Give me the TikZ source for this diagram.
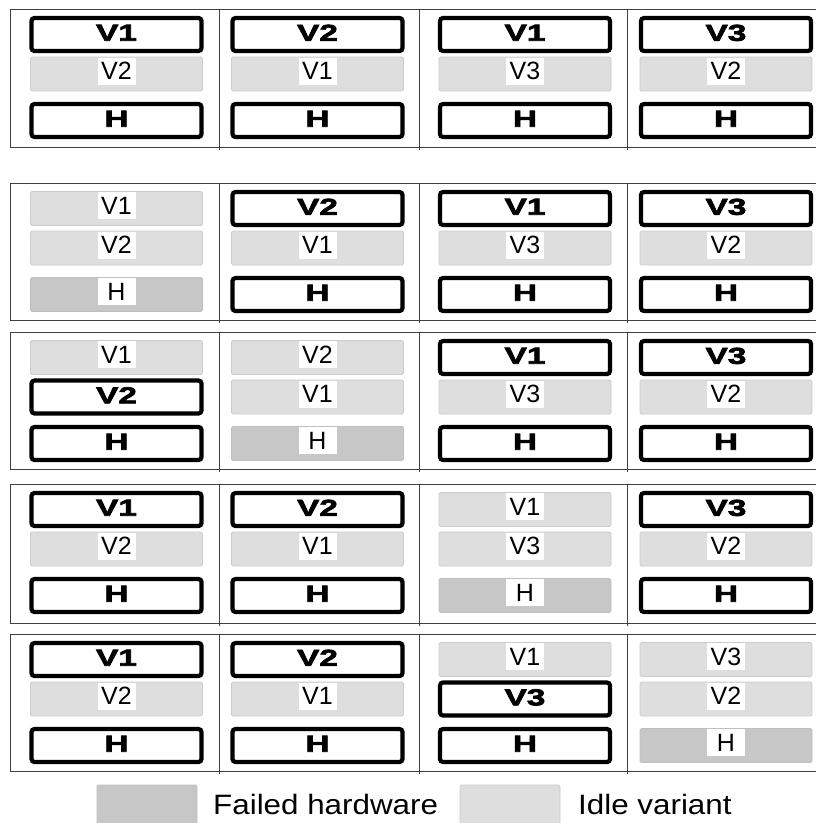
\documentclass[tikz,border=0pt]{standalone}
\usepackage{fontspec}
\setmainfont{Liberation Sans}
\newfontfamily\heavyfont[FakeBold=3,FakeStretch=1.45]{Liberation Sans}
\newfontfamily\legendfont[FakeStretch=1.12]{Liberation Sans}
\begin{document}
\begin{tikzpicture}[x=1pt,y=1pt,
  gridline/.style={draw=black!75, line width=1pt},
  activebox/.style={draw=black, line width=4.2pt, rounded corners=3pt, fill=white,
    minimum width=170pt, minimum height=33pt, inner sep=0pt,
    font=\heavyfont\bfseries\fontsize{23}{23}\selectfont},
  idlebox/.style={draw=black!20, fill=black!13, line width=0.8pt, rounded corners=1.5pt,
    minimum width=172pt, minimum height=34pt, inner sep=0pt},
  failbox/.style={idlebox, fill=black!22, draw=black!25},
  tag/.style={fill=white, inner sep=0pt, minimum width=38pt, minimum height=27pt,
    font=\fontsize{25}{25}\selectfont},
  legtext/.style={font=\legendfont\fontsize{28}{28}\selectfont, anchor=base west, inner sep=0pt}]
\useasboundingbox (0,0) rectangle (816,-823);
\def\rowtop{{9,183,332,484,634}}
\def\colx{{116.5,317.5,525,726}}
\def\sloty{{25.5,65,111.5}}
% grid
\foreach \t/\b in {9/147,183/320,332/469,484/623,634/771}{
  \draw[gridline] (816,-\t) -- (10,-\t) -- (10,-\b) -- (816,-\b);
  \foreach \x in {219,419,627} \draw[gridline] (\x,-\t) -- (\x,-\b-3);
}
% active variants / hardware
\foreach \r/\c/\s/\l in {1/1/1/V1,1/1/3/H,1/2/1/V2,1/2/3/H,1/3/1/V1,1/3/3/H,1/4/1/V3,1/4/3/H,
  2/2/1/V2,2/2/3/H,2/3/1/V1,2/3/3/H,2/4/1/V3,2/4/3/H,
  3/1/2/V2,3/1/3/H,3/3/1/V1,3/3/3/H,3/4/1/V3,3/4/3/H,
  4/1/1/V1,4/1/3/H,4/2/1/V2,4/2/3/H,4/4/1/V3,4/4/3/H,
  5/1/1/V1,5/1/3/H,5/2/1/V2,5/2/3/H,5/3/2/V3,5/3/3/H}{
  \pgfmathsetmacro\px{\colx[\c-1]}
  \pgfmathsetmacro\ta{\rowtop[\r-1]}
  \pgfmathsetmacro\tb{\sloty[\s-1]}
  \pgfmathsetmacro\py{0-\ta-\tb}
  \node[activebox] (a-\r-\c-\s) at (\px,\py) {\raisebox{3.5pt}{\l}};
}
% idle variants
\foreach \r/\c/\s/\l in {1/1/2/V2,1/2/2/V1,1/3/2/V3,1/4/2/V2,
  2/1/1/V1,2/1/2/V2,2/2/2/V1,2/3/2/V3,2/4/2/V2,
  3/1/1/V1,3/2/1/V2,3/2/2/V1,3/3/2/V3,3/4/2/V2,
  4/1/2/V2,4/2/2/V1,4/3/1/V1,4/3/2/V3,4/4/2/V2,
  5/1/2/V2,5/2/2/V1,5/3/1/V1,5/4/1/V3,5/4/2/V2}{
  \pgfmathsetmacro\px{\colx[\c-1]}
  \pgfmathsetmacro\ta{\rowtop[\r-1]}
  \pgfmathsetmacro\tb{\sloty[\s-1]}
  \pgfmathsetmacro\py{0-\ta-\tb}
  \node[idlebox] (i-\r-\c-\s) at (\px,\py) {};
  \node[tag,yshift=3pt] (it-\r-\c-\s) at (i-\r-\c-\s.center) {\l};
}
% failed hardware
\foreach \r/\c in {2/1,3/2,4/3,5/4}{
  \pgfmathsetmacro\px{\colx[\c-1]}
  \pgfmathsetmacro\ta{\rowtop[\r-1]}
  \pgfmathsetmacro\py{0-\ta-111.5}
  \node[failbox] (f-\r-\c) at (\px,\py) {};
  \node[tag,yshift=3pt] (ft-\r-\c) at (f-\r-\c.center) {H};
}
% legend
\node[failbox, minimum width=100pt, minimum height=40pt] (legF) at (147,-805) {};
\node[legtext] (legFt) at (213,-814) {Failed hardware};
\node[idlebox, minimum width=100pt, minimum height=40pt] (legI) at (510,-805) {};
\node[legtext] (legIt) at (578,-814) {Idle variant};
\end{tikzpicture}
\end{document}
